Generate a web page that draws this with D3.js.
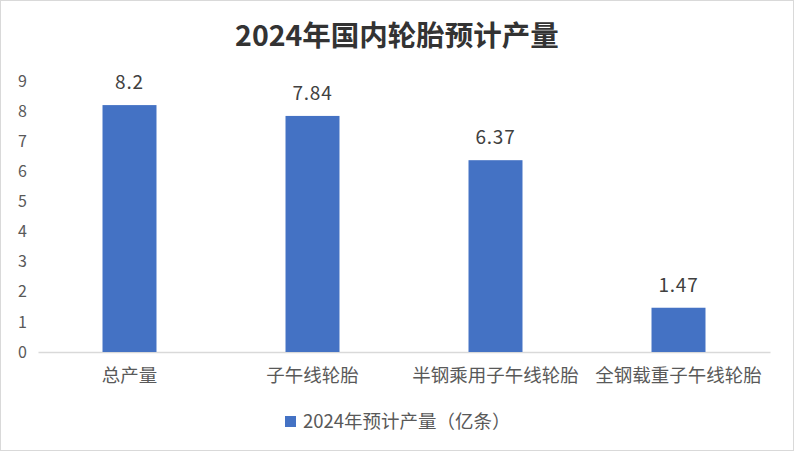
<!DOCTYPE html>
<html><head><meta charset="utf-8">
<script src="https://cdn.jsdelivr.net/npm/d3@7"></script>
<style>body{margin:0;background:#fff}svg{display:block}</style>
</head><body>
<svg id="c" width="794" height="452"></svg>
<script>
const categories = ["总产量","子午线轮胎","半钢乘用子午线轮胎","全钢载重子午线轮胎"];
const values = [8.2, 7.84, 6.37, 1.47];
const yTicks = [0,1,2,3,4,5,6,7,8,9];
const title = "2024年国内轮胎预计产量";
const seriesName = "2024年预计产量（亿条）";

const font = "'Noto Sans CJK SC','Microsoft YaHei',sans-serif";
const svg = d3.select("#c");
svg.append("rect").attr("x",0.5).attr("y",0.5).attr("width",793).attr("height",450)
  .attr("fill","#fff").attr("stroke","#d9d9d9");

const x = d3.scaleBand().domain(categories).range([38,770]).paddingInner(0.705).paddingOuter(0.3525);
const y = d3.scaleLinear().domain([0,9]).range([352,81]);

svg.append("text").attr("x",397).attr("y",46).attr("text-anchor","middle")
  .attr("font-family",font).attr("font-size",28.5).attr("font-weight","bold").attr("fill","#333333").text(title);

const ya = svg.append("g").attr("transform","translate(27,0)")
  .call(d3.axisLeft(y).tickValues(yTicks).tickSize(0).tickPadding(0));
ya.select(".domain").remove();
ya.selectAll("text").attr("font-family",font).attr("font-size",16).attr("fill","#595959");

const xa = svg.append("g").attr("transform","translate(0,352)")
  .call(d3.axisBottom(x).tickSize(0).tickPadding(17));
xa.select(".domain").attr("stroke","#d9d9d9").attr("stroke-width",1.5);
xa.selectAll("text").attr("font-family",font).attr("font-size",18.5).attr("fill","#595959");

svg.selectAll("rect.bar").data(values).join("rect").attr("class","bar")
  .attr("x",(d,i)=>x(categories[i])).attr("width",x.bandwidth())
  .attr("y",d=>y(d)).attr("height",d=>y(0)-y(d)).attr("fill","#4472c4");

svg.selectAll("text.lbl").data(values).join("text").attr("class","lbl")
  .attr("x",(d,i)=>x(categories[i])+x.bandwidth()/2).attr("y",d=>y(d)-16)
  .attr("text-anchor","middle").attr("font-family",font).attr("font-size",19).attr("fill","#404040")
  .attr("letter-spacing",0.8)
  .text(d=>d);

svg.append("rect").attr("x",285).attr("y",416).attr("width",11).attr("height",11).attr("fill","#4472c4");
svg.append("text").attr("x",303).attr("y",428).attr("font-family",font).attr("font-size",18.5)
  .attr("fill","#595959").text(seriesName);
</script>
</body></html>
